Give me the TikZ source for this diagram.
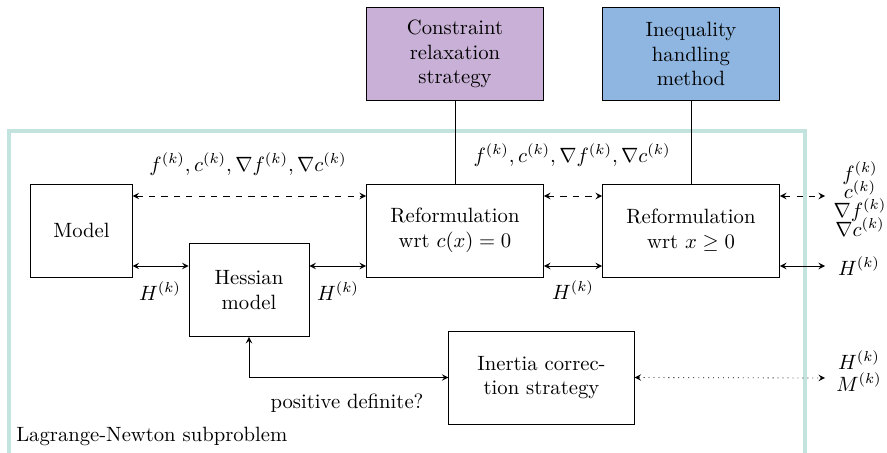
\documentclass[tikz,border=0pt]{standalone}
\usepackage{amsmath}
\usetikzlibrary{arrows}

\definecolor{framecol}{HTML}{C2E3DE}
\definecolor{relaxcol}{HTML}{C9B0D6}
\definecolor{ineqcol}{HTML}{8FB6E0}

\begin{document}
\begin{tikzpicture}[x=0.017cm, y=-0.017cm, >=stealth,
	block/.style={draw, align=center, minimum height=1.58cm, inner sep=2pt},
	flow/.style={<->}]
	\useasboundingbox (0,0) rectangle (887,453);
	\draw[line width=1.5pt, framecol] (9,131) rectangle (805,470);
	\node[anchor=west] (lnlabel) at (9,436) {Lagrange-Newton subproblem};
	% outer strategies
	\node[block, fill=relaxcol, minimum width=3.01cm] (relax) at (455,54) {Constraint\\relaxation\\strategy};
	\node[block, fill=ineqcol, minimum width=3.01cm] (ineq) at (691,54) {Inequality\\handling\\method};
	% blocks of the subproblem
	\node[block, minimum width=1.72cm] (model) at (81.5,230.5) {Model};
	\node[block, minimum width=2.04cm] (hess) at (249,290) {Hessian\\model};
	\node[block, minimum width=3.01cm] (refeq) at (455,230.5) {Reformulation\\wrt $c(x) = 0$};
	\node[block, minimum width=3.01cm] (refin) at (691,230.5) {Reformulation\\wrt $x \geq 0$};
	\node[block, minimum width=3.15cm] (inertia) at (541.5,377.5) {Inertia correc-\\tion strategy};
	\coordinate (rowF) at (0,196);
	\coordinate (rowH) at (0,266);
	\coordinate (outF) at (825,196);
	\coordinate (outH) at (825,266);
	\coordinate (outM) at (825,378);
	\draw (relax.south) -- (refeq.north);
	\draw (ineq.south) -- (refin.north);
	\draw[flow, dashed] (model.east |- rowF) -- (refeq.west |- rowF);
	\draw[flow, dashed] (refeq.east |- rowF) -- (refin.west |- rowF);
	\draw[flow, dashed] (refin.east |- rowF) -- (outF);
	\draw[flow] (model.east |- rowH) -- (hess.west |- rowH);
	\draw[flow] (hess.east |- rowH) -- (refeq.west |- rowH);
	\draw[flow] (refeq.east |- rowH) -- (refin.west |- rowH);
	\draw[flow] (refin.east |- rowH) -- (outH);
	\draw[flow] (hess.south) |- (inertia.west);
	\draw[flow, dotted] (inertia.east) -- (outM);
	\node (derivA) at (248,164) {$f^{(k)}, c^{(k)}, \nabla f^{(k)}, \nabla c^{(k)}$};
	\node (derivB) at (572,155) {$f^{(k)}, c^{(k)}, \nabla f^{(k)}, \nabla c^{(k)}$};
	\node[align=center, inner sep=0pt] (derivC) at (860,199) {$f^{(k)}$\\[-3pt]$c^{(k)}$\\[-3pt]$\nabla f^{(k)}$\\[-3pt]$\nabla c^{(k)}$};
	\node (hessA) at (160,291) {$H^{(k)}$};
	\node (hessB) at (338,291) {$H^{(k)}$};
	\node (hessC) at (573,290) {$H^{(k)}$};
	\node (hessD) at (859,266) {$H^{(k)}$};
	\node[align=center, inner sep=0pt] (hessM) at (859,371) {$H^{(k)}$\\[-1.5pt]$M^{(k)}$};
	\node (posdef) at (347,403) {positive definite?};
\end{tikzpicture}
\end{document}
